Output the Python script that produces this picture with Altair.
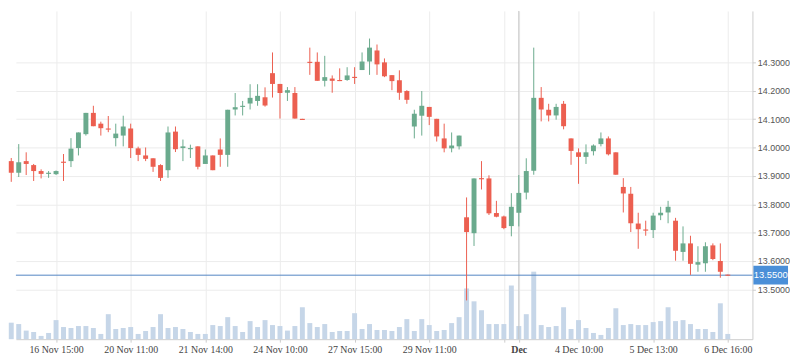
import altair as alt
import pandas as pd

# ---- data ----
opens = [13.952, 13.911, 13.952, 13.938, 13.917, 13.907, 13.906, 13.950, 13.952, 13.998,
         14.047, 14.122, 14.084, 14.067, 14.033, 14.042, 14.067, 13.997, 13.972, 13.962,
         13.938, 13.920, 14.056, 13.998, 13.994, 14.004, 13.942, 13.972, 13.993, 13.974,
         14.134, 14.143, 14.155, 14.164, 14.177, 14.262, 14.224, 14.193, 14.192, 14.101,
         14.302, 14.302, 14.235, 14.243, 14.238, 14.238, 14.249, 14.273, 14.303, 14.342,
         14.300, 14.255, 14.237, 14.199, 14.074, 14.112, 14.143, 14.101, 14.032, 13.997,
         14.004, 13.754, 13.698, 13.892, 13.891, 13.769, 13.757, 13.723, 13.770, 13.841,
         13.918, 14.175, 14.133, 14.113, 14.154, 14.032, 13.983, 13.967, 13.987, 14.012,
         14.032, 13.983, 13.861, 13.837, 13.732, 13.711, 13.709, 13.761, 13.771, 13.742,
         13.632, 13.662, 13.587, 13.592, 13.655, 13.600, 13.552]
highs = [13.963, 14.012, 13.983, 13.942, 13.923, 13.917, 13.919, 13.977, 14.033, 14.053,
         14.122, 14.147, 14.091, 14.111, 14.084, 14.112, 14.084, 14.003, 14.000, 13.962,
         13.941, 14.074, 14.074, 14.028, 14.010, 14.004, 13.993, 13.972, 14.032, 14.133,
         14.192, 14.164, 14.223, 14.223, 14.212, 14.335, 14.224, 14.213, 14.213, 14.101,
         14.352, 14.335, 14.323, 14.254, 14.279, 14.283, 14.283, 14.335, 14.384, 14.363,
         14.314, 14.255, 14.272, 14.202, 14.133, 14.199, 14.143, 14.101, 14.084, 14.053,
         14.042, 13.824, 13.891, 13.952, 13.902, 13.812, 13.760, 13.839, 13.903, 13.962,
         14.352, 14.213, 14.154, 14.154, 14.164, 14.032, 13.997, 14.011, 14.011, 14.053,
         14.039, 13.983, 13.892, 13.861, 13.770, 13.742, 13.770, 13.791, 13.812, 13.752,
         13.722, 13.689, 13.652, 13.666, 13.662, 13.662, 13.552]
lows = [13.879, 13.896, 13.903, 13.882, 13.891, 13.893, 13.903, 13.882, 13.931, 13.972,
        14.042, 14.075, 14.042, 14.054, 14.004, 14.004, 13.963, 13.952, 13.952, 13.914,
        13.882, 13.893, 13.984, 13.952, 13.963, 13.923, 13.942, 13.920, 13.932, 13.932,
        14.113, 14.113, 14.134, 14.147, 14.144, 14.176, 14.102, 14.164, 14.102, 14.097,
        14.256, 14.235, 14.215, 14.193, 14.234, 14.235, 14.224, 14.273, 14.256, 14.256,
        14.248, 14.202, 14.168, 14.154, 14.032, 14.042, 14.079, 14.021, 13.983, 13.983,
        13.993, 13.461, 13.653, 13.852, 13.762, 13.754, 13.712, 13.687, 13.722, 13.817,
        13.904, 14.092, 14.092, 14.098, 14.064, 13.939, 13.872, 13.942, 13.972, 14.004,
        13.972, 13.904, 13.771, 13.702, 13.643, 13.689, 13.681, 13.744, 13.733, 13.601,
        13.601, 13.551, 13.562, 13.562, 13.603, 13.541, 13.548]
closes = [13.911, 13.948, 13.942, 13.917, 13.907, 13.911, 13.917, 13.946, 13.996, 14.053,
          14.122, 14.075, 14.068, 14.063, 14.049, 14.074, 13.998, 13.974, 13.960, 13.932,
          13.893, 14.053, 13.994, 14.004, 13.998, 13.932, 13.972, 13.920, 13.974, 14.133,
          14.142, 14.147, 14.175, 14.182, 14.148, 14.224, 14.192, 14.202, 14.102, 14.097,
          14.298, 14.235, 14.248, 14.235, 14.234, 14.254, 14.245, 14.303, 14.352, 14.293,
          14.251, 14.234, 14.193, 14.168, 14.119, 14.147, 14.108, 14.039, 13.997, 14.007,
          14.042, 13.702, 13.891, 13.888, 13.768, 13.756, 13.716, 13.791, 13.840, 13.917,
          14.175, 14.134, 14.113, 14.143, 14.075, 13.988, 13.967, 13.983, 14.007, 14.032,
          13.976, 13.904, 13.838, 13.733, 13.712, 13.707, 13.760, 13.770, 13.791, 13.636,
          13.662, 13.590, 13.596, 13.652, 13.607, 13.562, 13.548]
volumes = [16700, 15300, 8700, 7300, 3300, 6300, 19300, 12300, 11300, 13300,
           13300, 11300, 5300, 25300, 10300, 11300, 12300, 5300, 8300, 12300,
           25300, 11300, 12300, 10300, 7300, 5300, 5300, 14300, 13300, 22300,
           13300, 7300, 18300, 12300, 19300, 14300, 13300, 8700, 13300, 32300,
           16300, 12300, 15300, 7300, 8300, 8300, 26300, 10300, 15300, 9300,
           9300, 8300, 12300, 20300, 8300, 20300, 14300, 8300, 9300, 16300,
           22300, 51300, 38300, 29300, 15300, 15300, 15300, 54300, 13300, 25300,
           68300, 14300, 12300, 13300, 32300, 10300, 19300, 11300, 6300, 4300,
           11300, 31300, 14300, 15300, 14300, 14300, 17300, 18300, 32300, 18300,
           19300, 15300, 10300, 10300, 7300, 36300, 5300]

tick_idx = [6, 16, 26, 36, 46, 56, 66, 68, 76, 86, 96]
tick_labels = ["16 Nov 15:00", "20 Nov 11:00", "21 Nov 14:00", "24 Nov 10:00",
               "27 Nov 15:00", "29 Nov 11:00", "", "Dec", "4 Dec 10:00",
               "5 Dec 13:00", "6 Dec 16:00"]
price_ticks = [13.5, 13.6, 13.7, 13.8, 13.9, 14.0, 14.1, 14.2, 14.3]
last_price = 13.55
cross_idx = 68

GREEN = "#6aaa8d"
RED = "#ec5f50"
VOL = "#c6d6e8"

# ---- tables ----
df = pd.DataFrame({
    "idx": list(range(len(opens))),
    "open": opens, "high": highs, "low": lows, "close": closes,
    "volume": volumes,
})
df["dir"] = ["up" if c >= o else "down" for o, c in zip(opens, closes)]
cross_df = pd.DataFrame({"idx": [cross_idx]})
last_df = pd.DataFrame({"price": [last_price], "label": [f"{last_price:.4f}"]})

W, H = 745, 332

label_expr = ""
for v, t in zip(tick_idx, tick_labels):
    label_expr += f"datum.value == {v} ? '{t}' : "
label_expr += "''"

x_axis = alt.Axis(
    values=tick_idx, labelExpr=label_expr, grid=True, gridColor="#ececec",
    domainColor="#cccccc", tickColor="#cccccc", tickSize=3, labelPadding=2,
    labelFont="Liberation Serif", labelFontSize=10, labelColor="#444444",
    labelFontWeight={"condition": {"test": f"datum.value == {cross_idx}", "value": "bold"},
                     "value": "normal"},
    labelOverlap=False, labelFlush=False, title=None,
)
x_scale = alt.Scale(domain=[0.6225, 99.3], nice=False, zero=False, padding=0)
y_axis = alt.Axis(
    values=price_ticks, format=".4f", orient="right", grid=True, gridColor="#ececec",
    domainColor="#cccccc", tickColor="#cccccc", tickSize=3, labelPadding=2,
    labelFont="Liberation Sans", labelFontSize=9, labelColor="#555555",
    labelOverlap=False, labelFlush=False, title=None,
)
y_scale = alt.Scale(domain=[13.32439, 14.4812], nice=False, zero=False, padding=0)

X = alt.X("idx:Q", scale=x_scale, axis=x_axis)
color = alt.Color("dir:N", scale=alt.Scale(domain=["up", "down"], range=[GREEN, RED]), legend=None)

vol = alt.Chart(df).mark_bar(size=5, color=VOL).encode(
    x=X,
    y=alt.Y("volume:Q", scale=alt.Scale(domain=[0, 332000], nice=False, padding=0), axis=None),
)

cross = alt.Chart(cross_df).mark_rule(color="#c4c4c4", strokeWidth=1).encode(x=X)

hline = alt.Chart(last_df).mark_rule(color="#5285c2", strokeWidth=1).encode(
    y=alt.Y("price:Q", scale=y_scale, axis=y_axis)
)

wicks = alt.Chart(df).mark_rule(strokeWidth=1).encode(
    x=X,
    y=alt.Y("low:Q", scale=y_scale, axis=y_axis),
    y2="high:Q",
    color=color,
)
bodies = alt.Chart(df).mark_bar(size=5).encode(
    x=X,
    y=alt.Y("open:Q", scale=y_scale, axis=y_axis),
    y2="close:Q",
    color=color,
)

box = alt.Chart(last_df).mark_point(
    shape="M-1,-0.54H1V0.54H-1Z", size=35 * 35, filled=True, opacity=1,
    color="#4a8fd8", strokeWidth=0,
).encode(
    x=alt.value(W + 18.5),
    y=alt.Y("price:Q", scale=y_scale, axis=y_axis),
)
box_text = alt.Chart(last_df).mark_text(
    color="white", font="Liberation Sans", fontSize=9.5, align="center", baseline="middle",
).encode(
    x=alt.value(W + 18.5),
    y=alt.Y("price:Q", scale=y_scale, axis=y_axis),
    text="label:N",
)

price_layer = alt.layer(cross, hline, wicks, bodies, box, box_text)

chart = alt.layer(vol, price_layer).resolve_scale(y="independent").properties(
    width=W, height=H, padding={"left": 0, "top": 0, "right": 0, "bottom": 0},
).configure_view(strokeWidth=0)

chart.save("out.html", embed_options={"renderer": "svg", "actions": False})
